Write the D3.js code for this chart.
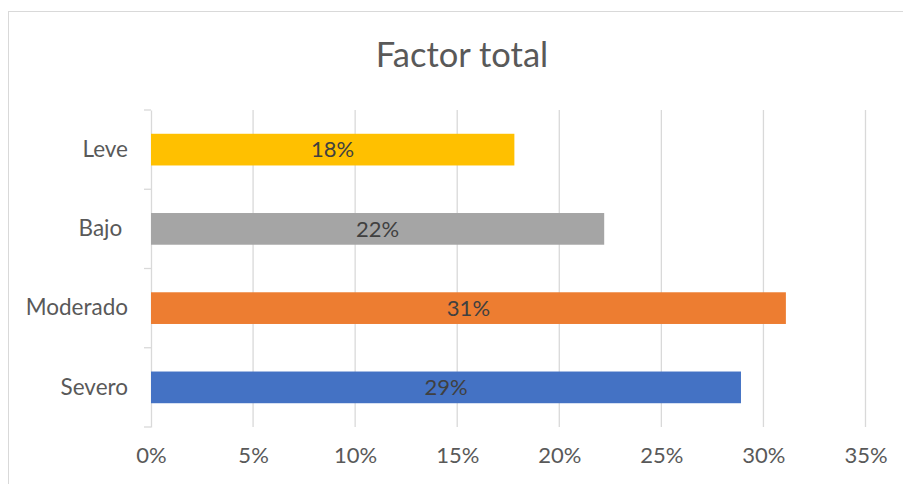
<!DOCTYPE html>
<html><head><meta charset="utf-8">
<script src="https://cdn.jsdelivr.net/npm/d3@7"></script>
<style>
html,body{margin:0;padding:0;background:#fff;}
text{font-family:Lato,"Open Sans",sans-serif;}
</style></head>
<body>
<svg id="c" width="903" height="484"></svg>
<script>
const title = "Factor total";
const categories = ["Leve", "Bajo ", "Moderado", "Severo"];
const values = [0.178, 0.222, 0.311, 0.289];
const labels = ["18%", "22%", "31%", "29%"];
const colors = ["#FFC000", "#A5A5A5", "#ED7D31", "#4472C4"];
const xTicks = [0, 0.05, 0.10, 0.15, 0.20, 0.25, 0.30, 0.35];

const svg = d3.select("#c");
const W = 903, H = 484;
const m = {left: 151, right: 903 - 865.5, top: 110, bottom: 484 - 427};

svg.append("rect").attr("x", 8.5).attr("y", 11.5).attr("width", 1000).attr("height", 1000)
  .attr("fill", "#fff").attr("stroke", "#d9d9d9").attr("stroke-width", 1);

const x = d3.scaleLinear().domain([0, 0.35]).range([m.left, W - m.right]);
const y = d3.scaleBand().domain(categories).range([m.top, H - m.bottom]).paddingInner(0.6).paddingOuter(0.3);

// gridlines
svg.append("g").selectAll("line").data(xTicks.slice(1)).join("line")
  .attr("x1", d => x(d)).attr("x2", d => x(d))
  .attr("y1", m.top).attr("y2", H - m.bottom)
  .attr("stroke", "#d9d9d9").attr("stroke-width", 1.3);

// x axis labels
const xa = svg.append("g").attr("transform", `translate(0,${H - m.bottom})`)
  .call(d3.axisBottom(x).tickValues(xTicks).tickFormat(d3.format(".0%")).tickSize(0).tickPadding(20));
xa.select(".domain").remove();
xa.selectAll("text").attr("fill", "#595959").attr("font-size", 22).attr("font-family", "Lato");

// y axis
const ya = svg.append("g").attr("transform", `translate(${m.left},0)`)
  .call(d3.axisLeft(y).tickSize(0).tickPadding(23));
ya.select(".domain").attr("stroke", "#d9d9d9").attr("stroke-width", 1.3);
ya.selectAll("text").attr("fill", "#595959").attr("font-size", 22.5).attr("font-family", "Lato")
  .style("white-space", "pre");
// category boundary ticks
const bounds = [m.top].concat(categories.map((c, i) => m.top + (i + 1) * y.step()));
svg.append("g").selectAll("line").data(bounds).join("line")
  .attr("x1", m.left - 7).attr("x2", m.left)
  .attr("y1", d => d).attr("y2", d => d)
  .attr("stroke", "#d9d9d9").attr("stroke-width", 1.3);

// bars
svg.append("g").selectAll("rect").data(categories).join("rect")
  .attr("x", x(0)).attr("y", d => y(d))
  .attr("width", (d, i) => x(values[i]) - x(0))
  .attr("height", y.bandwidth())
  .attr("fill", (d, i) => colors[i]);

// data labels
svg.append("g").selectAll("text").data(categories).join("text")
  .attr("x", (d, i) => (x(0) + x(values[i])) / 2)
  .attr("y", d => y(d) + y.bandwidth() / 2)
  .attr("dy", "0.35em").attr("text-anchor", "middle")
  .attr("fill", "#404040").attr("font-size", 22)
  .text((d, i) => labels[i]);

// title
svg.append("text").attr("x", 462).attr("y", 67).attr("text-anchor", "middle")
  .attr("fill", "#595959").attr("font-size", 34.5).text(title);
</script>
</body></html>
